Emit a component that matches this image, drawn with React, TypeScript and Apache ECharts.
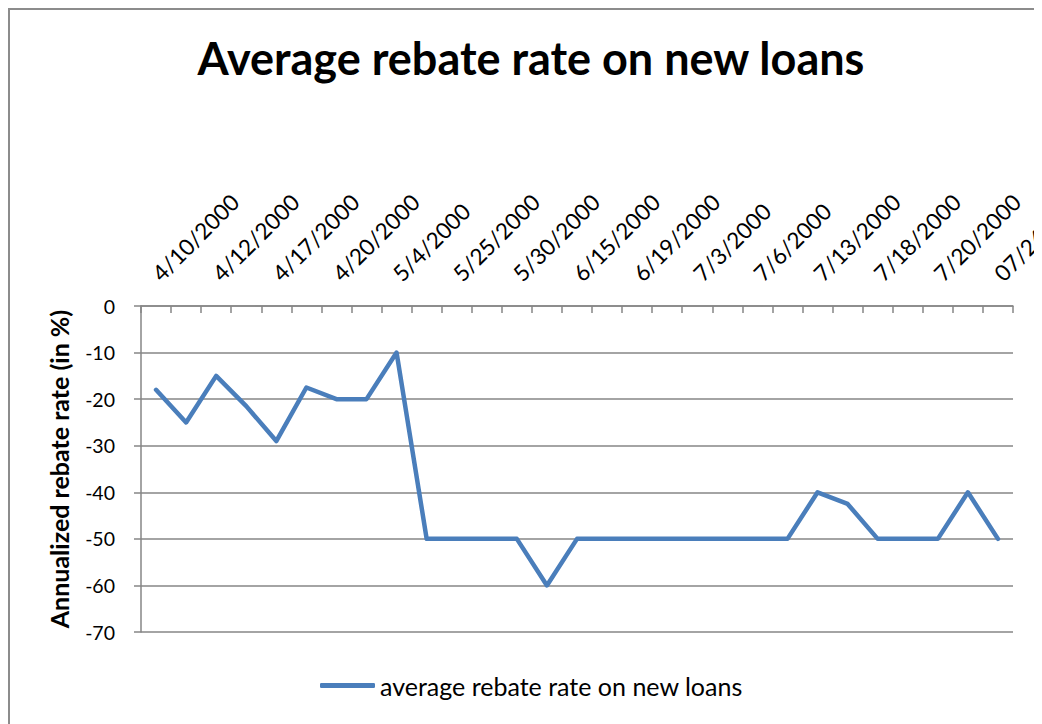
import React, { useEffect, useRef } from "react";
import * as echarts from "echarts";

const categories: string[] = [
  "4/10/2000", "4/11/2000", "4/12/2000", "4/14/2000", "4/17/2000", "4/18/2000",
  "4/20/2000", "4/27/2000", "5/4/2000", "5/15/2000", "5/25/2000", "5/26/2000",
  "5/30/2000", "6/6/2000", "6/15/2000", "6/16/2000", "6/19/2000", "6/26/2000",
  "7/3/2000", "7/5/2000", "7/6/2000", "7/10/2000", "7/13/2000", "7/14/2000",
  "7/18/2000", "7/19/2000", "7/20/2000", "7/24/2000", "07/26/2000",
];

const rebateRate: number[] = [
  -18, -25, -15, -21.5, -29, -17.5, -20, -20, -10, -50, -50, -50, -50, -60, -50,
  -50, -50, -50, -50, -50, -50, -50, -40, -42.5, -50, -50, -50, -40, -50,
];

const seriesName = "average rebate rate on new loans";
const titleText = "Average rebate rate on new loans";
const yAxisName = "Annualized rebate rate (in %)";

const FONT = "Lato, 'Open Sans', sans-serif";
const GRID_COLOR = "#868686";
const LINE_COLOR = "#4a7ebb";

export default function App() {
  const ref = useRef<HTMLDivElement>(null);

  useEffect(() => {
    if (!ref.current) return;
    const chart = echarts.init(ref.current, null, { renderer: "svg" });
    chart.setOption({
      animation: false,
      backgroundColor: "#ffffff",
      title: {
        text: titleText,
        left: 516,
        top: 20,
        textAlign: "center",
        textStyle: { fontFamily: FONT, fontWeight: "bold", fontSize: 45, color: "#000" },
      },
      legend: {
        left: 305,
        top: 658,
        itemWidth: 55,
        itemHeight: 5,
        itemGap: 10,
        textStyle: { fontFamily: FONT, fontSize: 25, color: "#000" },
        data: [{ name: seriesName, icon: "roundRect", itemStyle: { color: LINE_COLOR } }],
      },
      grid: { left: 131, top: 296, right: 97, bottom: 92, containLabel: false },
      xAxis: {
        type: "category",
        position: "top",
        data: categories,
        boundaryGap: true,
        axisLine: { show: true, lineStyle: { color: GRID_COLOR, width: 1.5 } },
        axisTick: { show: true, inside: true, length: 7, interval: 0, lineStyle: { color: GRID_COLOR, width: 1.5 } },
        axisLabel: {
          interval: 1,
          rotate: 45,
          margin: 29,
          fontFamily: FONT,
          fontSize: 22.5,
          color: "#000",
        },
        splitLine: { show: false },
      },
      yAxis: {
        type: "value",
        min: -70,
        max: 0,
        interval: 10,
        name: yAxisName,
        nameLocation: "middle",
        nameGap: 70,
        nameTextStyle: { fontFamily: FONT, fontWeight: "bold", fontSize: 25, color: "#000" },
        axisLine: { show: true, lineStyle: { color: GRID_COLOR, width: 1.5 } },
        axisTick: { show: true, inside: false, length: 7, lineStyle: { color: GRID_COLOR, width: 1.5 } },
        axisLabel: { margin: 26, fontFamily: FONT, fontSize: 19.5, color: "#000" },
        splitLine: { show: true, lineStyle: { color: GRID_COLOR, width: 1.5 } },
      },
      series: [
        {
          name: seriesName,
          type: "line",
          data: rebateRate,
          symbol: "none",
          showSymbol: false,
          lineStyle: { color: LINE_COLOR, width: 4.5, cap: "round", join: "round" },
          itemStyle: { color: LINE_COLOR },
        },
      ],
    });
    return () => chart.dispose();
  }, []);

  return (
    <div
      style={{
        position: "relative",
        width: 1034,
        height: 716,
        overflow: "hidden",
        borderLeft: "2px solid #8c8c8c",
        borderTop: "2px solid #8c8c8c",
        boxSizing: "border-box",
      }}
    >
      <div ref={ref} style={{ position: "absolute", left: 0, top: 0, width: 1100, height: 714 }} />
    </div>
  );
}
